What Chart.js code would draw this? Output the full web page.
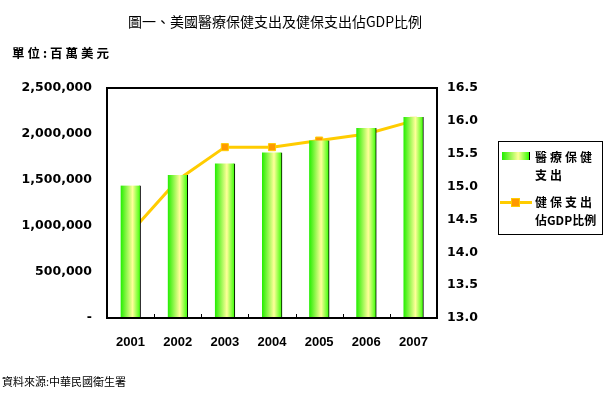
<!DOCTYPE html>
<html>
<head>
<meta charset="utf-8">
<script src="https://cdn.jsdelivr.net/npm/chart.js@4.4.1/dist/chart.umd.min.js"></script>
<style>
  body { margin: 0; background: #fff; }
  #wrap { position: relative; width: 612px; height: 402px; overflow: hidden; }
  canvas { position: absolute; left: 0; top: 0; }
  .txt { position: absolute; white-space: nowrap; color: #000; font-family: "Noto Sans CJK TC", sans-serif; }
  #title { left: 0; width: 550px; text-align: center; top: 11px; font-size: 14px; }
  #unit { left: 12px; top: 43px; font-size: 12.5px; font-weight: bold; letter-spacing: 3px; }
  #source { left: 2px; top: 373px; font-size: 11px; }
  #legend { position: absolute; left: 498px; top: 141px; width: 103px; height: 92px; border: 1px solid #000; }
  #legend .lab { position: absolute; font-family: "Noto Sans CJK TC", sans-serif; font-weight: bold; font-size: 12px; letter-spacing: 3px; line-height: 18px; white-space: nowrap; }
  #sw1 { position: absolute; left: 3px; top: 10px; width: 27px; height: 8px;
         background: linear-gradient(to right, #22ee00, #ffff99 60%, #33ff00); border-right: 1px solid #000; }
  #ln { position: absolute; left: 1px; top: 59px; width: 32px; height: 3px; background: #ffcc00; }
  #mk { position: absolute; left: 12px; top: 56px; width: 7px; height: 7px; background: #ff9900; border: 1px solid #ffcc00; }
</style>
</head>
<body>
<div id="wrap">
  <canvas id="myChart" width="612" height="402"></canvas>
  <div class="txt" id="title">圖一、美國醫療保健支出及健保支出佔GDP比例</div>
  <div class="txt" id="unit">單位:百萬美元</div>
  <div class="txt" id="source">資料來源:中華民國衛生署</div>
  <div id="legend">
    <div id="sw1"></div>
    <div class="lab" style="left:36px; top:6px;">醫療保健<br>支出</div>
    <div id="ln"></div><div id="mk"></div>
    <div class="lab" style="left:36px; top:51px;">健保支出<br><span style="letter-spacing:0">佔GDP比例</span></div>
  </div>
</div>
<script>
// data
const years = ['2001', '2002', '2003', '2004', '2005', '2006', '2007'];
const spending = [1440000, 1555000, 1680000, 1800000, 1930000, 2065000, 2185000];
const gdpShare = [14.3, 15.1, 15.6, 15.6, 15.7, 15.8, 16.0];

const barW = 20;

// horizontal green-yellow-green gradient for each bar
function barFill(ctx) {
  const chart = ctx.chart;
  if (!chart.chartArea) return '#66ff33';
  const x = chart.scales.x.getPixelForValue(ctx.dataIndex);
  const g = chart.ctx.createLinearGradient(x - barW / 2, 0, x + barW / 2, 0);
  g.addColorStop(0, '#22ee00');
  g.addColorStop(0.6, '#ffff99');
  g.addColorStop(1, '#33ff00');
  return g;
}

// frame round the plot area plus the small category ticks on the bottom axis
const framePlugin = {
  id: 'frame',
  afterDraw(chart) {
    const { ctx, chartArea: a } = chart;
    const xs = chart.scales.x;
    ctx.save();
    ctx.strokeStyle = '#000';
    ctx.lineWidth = 1;
    for (let i = 1; i < years.length; i++) {
      const px = Math.round((xs.getPixelForValue(i - 1) + xs.getPixelForValue(i)) / 2) + 0.5;
      ctx.beginPath();
      ctx.moveTo(px, a.bottom);
      ctx.lineTo(px, a.bottom - 4);
      ctx.stroke();
    }
    ctx.lineWidth = 2;
    ctx.strokeRect(a.left, a.top, a.right - a.left, a.bottom - a.top);
    ctx.restore();
  }
};

const tickFont = { family: 'DejaVu Sans', weight: 'bold', size: 12.5 };

const data = {
  labels: years,
  datasets: [{
    type: 'bar',
    label: '醫療保健支出',
    data: spending,
    yAxisID: 'y',
    backgroundColor: barFill,
    borderColor: '#000',
    borderWidth: { right: 1, left: 0, top: 0, bottom: 0 },
    borderSkipped: false,
    barThickness: barW,
    order: 1
  }, {
    type: 'line',
    label: '健保支出佔GDP比例',
    data: gdpShare,
    yAxisID: 'y1',
    borderColor: '#ffcc00',
    borderWidth: 3,
    pointStyle: 'rect',
    pointRadius: 5,
    pointBackgroundColor: '#ff9900',
    pointBorderColor: '#ffcc00',
    pointBorderWidth: 1,
    tension: 0,
    order: 2
  }]
};

const config = {
  type: 'bar',
  data: data,
  options: {
    responsive: false,
    animation: false,
    layout: { padding: { top: 88, left: 0, right: 0, bottom: 0 } },
    plugins: { legend: { display: false }, tooltip: { enabled: false } },
    scales: {
      x: {
        grid: { display: false, drawTicks: false },
        border: { display: false },
        ticks: { color: '#000', padding: 17, font: { family: 'Liberation Sans', weight: 'bold', size: 13 } },
        afterFit(scale) { scale.height = 84; }
      },
      y: {
        position: 'left',
        min: 0, max: 2500000,
        grid: { display: false, drawTicks: false },
        border: { display: false },
        ticks: {
          stepSize: 500000, color: '#000', padding: 15, font: tickFont,
          callback: v => v === 0 ? '-' : v.toLocaleString('en-US')
        },
        afterFit(scale) { scale.width = 107; }
      },
      y1: {
        position: 'right',
        min: 13, max: 16.5,
        grid: { display: false, drawTicks: false },
        border: { display: false },
        ticks: {
          stepSize: 0.5, color: '#000', padding: 10, font: tickFont,
          callback: v => v.toFixed(1)
        },
        afterFit(scale) { scale.width = 175; }
      }
    }
  },
  plugins: [framePlugin]
};

const myChart = new Chart(document.getElementById('myChart'), config);
</script>
</body>
</html>
